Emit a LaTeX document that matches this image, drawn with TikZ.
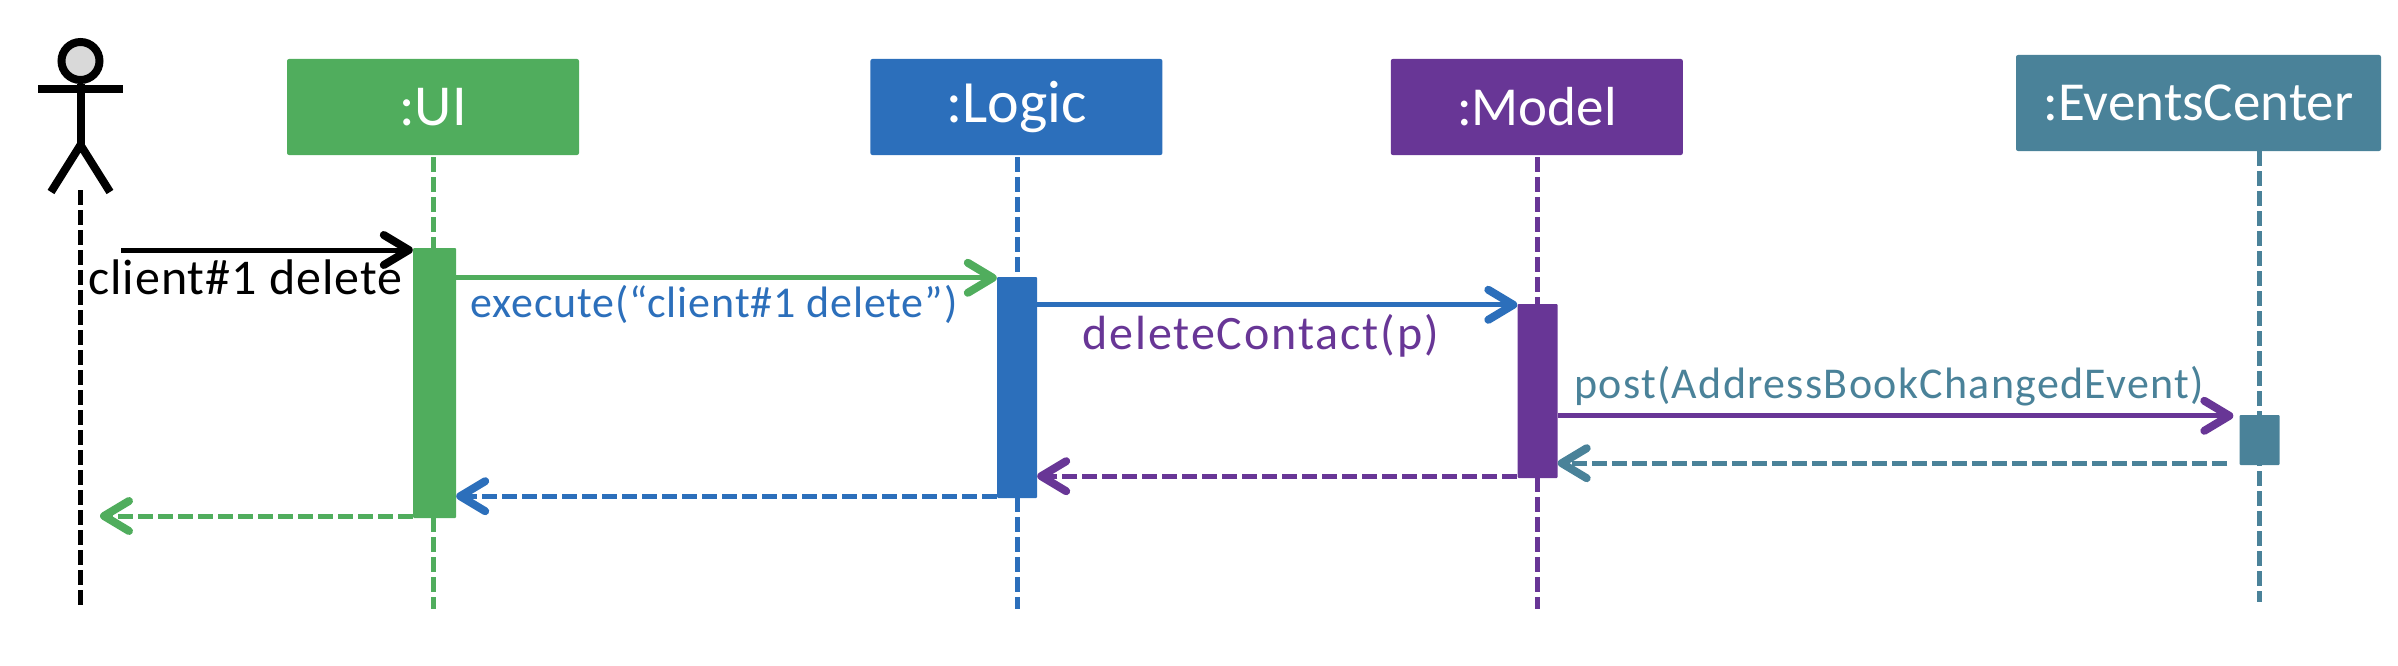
\documentclass[tikz,border=0pt]{standalone}
\usepackage{fontspec}
\setmainfont{Carlito}
\usetikzlibrary{arrows.meta,positioning}

\definecolor{uicol}{HTML}{50AD5D}
\definecolor{logiccol}{HTML}{2C6FBB}
\definecolor{modelcol}{HTML}{683696}
\definecolor{eventcol}{HTML}{4A8299}

% font size and letter spacing in one go
\newcommand{\labelfont}[2]{\fontsize{#1}{#1}\selectfont\addfontfeature{LetterSpace=#2}}

\tikzset{
    objbox/.style={rectangle, rounded corners=2pt, inner sep=0pt, text=white, minimum width=292pt, minimum height=96pt},
    actbar/.style={rectangle, rounded corners=1pt, inner sep=0pt, minimum width=40pt},
    lifeline/.style={line width=5pt, dash pattern=on 15pt off 5pt},
    call/.style={line width=5pt, -{Straight Barb[length=25pt,width=30pt,line width=8pt,round]}},
    reply/.style={call, dash pattern=on 15pt off 5pt},
    msglabel/.style={anchor=base west, inner sep=0pt}
}

\begin{document}
\begin{tikzpicture}[x=1pt,y=-1pt]
    \useasboundingbox (0,0) rectangle (2398,666);

    %-----Objects-----
    % UI Object
    \node [objbox, fill=uicol, font=\labelfont{58}{0}] (ui) at (433,107) {:UI};

    % Logic Object
    \node [objbox, fill=logiccol, font=\labelfont{60}{0}, right=291pt of ui] (logic) {:Logic};

    % Model Object
    \node [objbox, fill=modelcol, font=\labelfont{55}{0}, right=228pt of logic] (model) {:Model};

    % EventsCenter Object
    \node [objbox, fill=eventcol, minimum width=365pt, font=\labelfont{55}{0}] (events) at (2198.5,103) {:EventsCenter};

    %-----Actor-----
    \node [circle, draw, fill=black!15, line width=8pt, inner sep=0pt, minimum size=38pt] (head) at (80.5,61) {};
    \coordinate (hip) at (80.5,145);
    \coordinate (footl) at (51,192);
    \coordinate (footr) at (110,192);
    \coordinate (handl) at (38,89);
    \coordinate (handr) at (123,89);
    \draw [line width=8pt] (head.south) -- (hip);
    \draw [line width=8pt] (handl) -- (handr);
    \draw [line width=8pt] (footl) -- (hip) -- (footr);

    %-----Lifelines-----
    \coordinate (actorlife) at (80.5,190);
    \draw [lifeline, black] (actorlife) -- (80.5,606);
    \draw [lifeline, uicol] ([yshift=-2pt]ui.south) -- ++(0,452);
    \draw [lifeline, logiccol] ([yshift=-2pt,xshift=1pt]logic.south) -- ++(0,452);
    \draw [lifeline, modelcol] ([yshift=-2pt,xshift=1pt]model.south) -- ++(0,452);
    \draw [lifeline, eventcol] ([xshift=60.5pt]events.south) -- ++(0,451);

    %-----Activations-----
    \node [actbar, fill=uicol, minimum width=43pt, minimum height=270pt] (uibar) at (434.5,383) {};
    \node [actbar, fill=logiccol, minimum height=221pt] (logicbar) at (1017,387.5) {};
    \node [actbar, fill=modelcol, minimum height=174pt] (modelbar) at (1537.5,391) {};
    \node [actbar, fill=eventcol, minimum height=50pt] (eventbar) at (2259.5,440) {};

    %-----Calls-----
    \coordinate (start) at (121,250);
    \draw [call, black] (start) -- (start -| uibar.west);
    \draw [call, uicol] ([yshift=-1pt]uibar.east |- logicbar.north) -- ([yshift=-1pt]logicbar.north west);
    \draw [call, logiccol] ([yshift=-1pt]logicbar.east |- modelbar.north) -- ([yshift=-1pt]modelbar.north west);
    \draw [call, modelcol] ([yshift=-1pt]modelbar.east |- eventbar.north) -- ([xshift=-6pt,yshift=-1pt]eventbar.north west);

    %-----Replies-----
    \coordinate (finish) at (100,516);
    \draw [reply, uicol] (uibar.south west |- finish) -- (finish);
    \draw [reply, logiccol] ([yshift=2pt]logicbar.south west) -- ([yshift=2pt]uibar.east |- logicbar.south);
    \draw [reply, modelcol] ([yshift=2pt]modelbar.south west) -- ([yshift=2pt]logicbar.east |- modelbar.south);
    \draw [reply, eventcol] ([xshift=-12pt,yshift=2pt]eventbar.south west) -- ([yshift=2pt]modelbar.east |- eventbar.south);

    %-----Labels-----
    \node [msglabel, black, font=\labelfont{50}{2}] (deletelbl) at (88,294) {client\#1 delete};
    \node [msglabel, logiccol, font=\labelfont{44}{2}] (executelbl) at (470.5,317) {execute(“client\#1 delete”)};
    \node [msglabel, modelcol, font=\labelfont{48}{4}] (contactlbl) at (1082,349) {deleteContact(p)};
    \node [msglabel, eventcol, font=\labelfont{44}{3}] (postlbl) at (1574,398) {post(AddressBookChangedEvent)};

\end{tikzpicture}
\end{document}
